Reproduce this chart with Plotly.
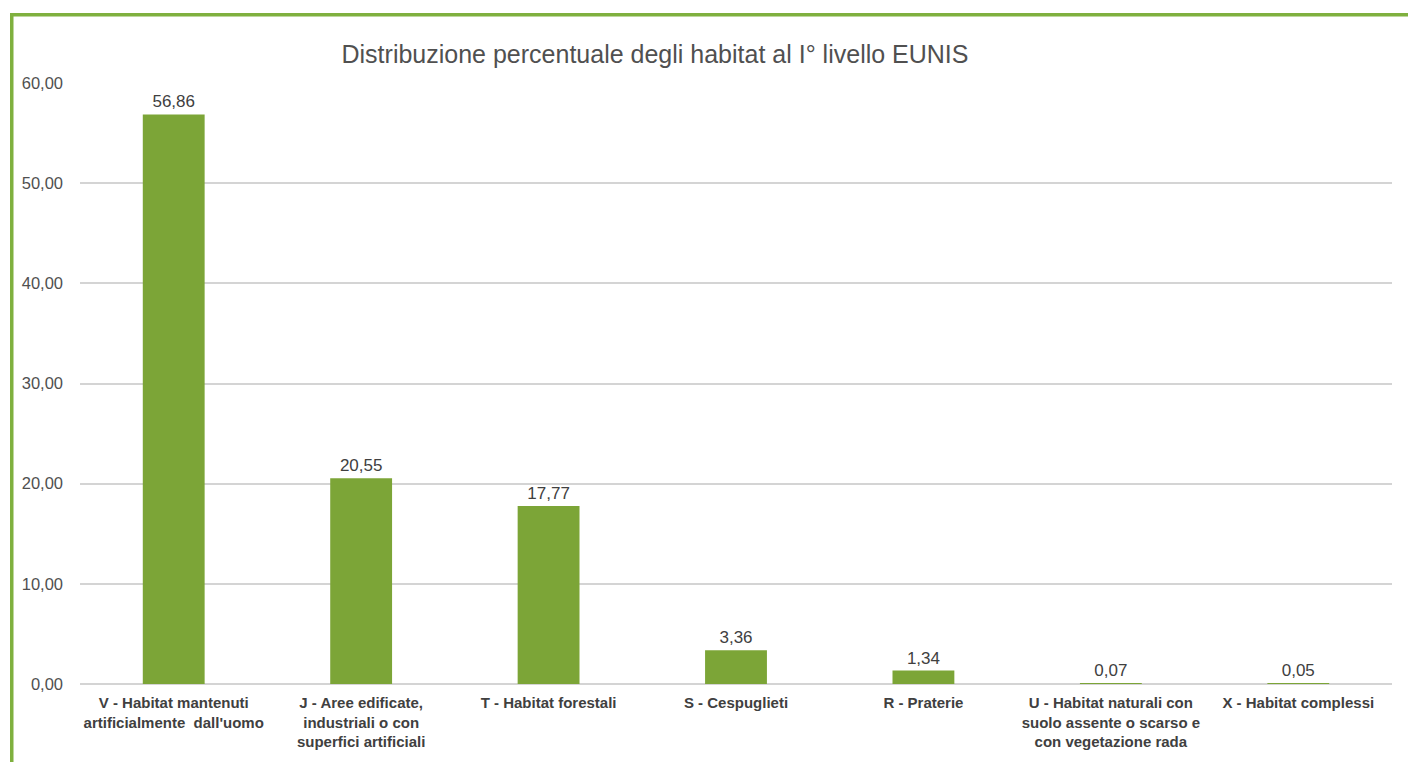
import plotly.graph_objects as go

categories = [
    "V - Habitat mantenuti<br>artificialmente  dall'uomo",
    "J - Aree edificate,<br>industriali o con<br>superfici artificiali",
    "T - Habitat forestali",
    "S - Cespuglieti",
    "R - Praterie",
    "U - Habitat naturali con<br>suolo assente o scarso e<br>con vegetazione rada",
    "X - Habitat complessi",
]
values = [56.86, 20.55, 17.77, 3.36, 1.34, 0.07, 0.05]
title_text = "Distribuzione percentuale degli habitat al I° livello EUNIS"

W, H = 1408, 762
L, R, T, B = 80, 16, 83, 78
pw, ph = W - L - R, H - T - B

def px_x(x):
    return (x - L) / pw

def px_y(y):
    return 1 - (y - T) / ph

FONT = "Liberation Sans, Arial"

fig = go.Figure()
fig.add_trace(go.Bar(
    x=categories,
    y=values,
    marker=dict(color="#7CA537", line=dict(width=0)),
    texttemplate="%{y:.2f}",
    textposition="outside",
    textfont=dict(family=FONT, size=17, color="#404040"),
    cliponaxis=False,
    hoverinfo="skip",
))

fig.update_layout(
    width=W, height=H,
    margin=dict(l=L, r=R, t=T, b=B),
    paper_bgcolor="white",
    plot_bgcolor="white",
    separators=",.",
    showlegend=False,
    bargap=0.67,
    title=dict(
        text=title_text,
        x=px_x(655), xanchor="center", xref="paper",
        y=1 - 54 / H, yanchor="middle", yref="container",
        font=dict(family=FONT, size=25, color="#505050"),
    ),
    xaxis=dict(
        showgrid=False, showline=False, ticks="",
        tickfont=dict(family=FONT, size=15, color="#404040", weight="bold"),
        tickangle=0, ticklabelstandoff=8,
    ),
    yaxis=dict(
        range=[0, 60], dtick=10, tickformat=".2f",
        showgrid=True, gridcolor="#D4D4D4", gridwidth=1.5,
        zeroline=True, zerolinecolor="#D4D4D4", zerolinewidth=1.5,
        showline=False, ticks="", ticklen=0, ticklabelstandoff=16,
        tickfont=dict(family=FONT, size=16.5, color="#505050"),
    ),
    shapes=[
        dict(type="rect", xref="paper", yref="paper",
             x0=px_x(10), x1=px_x(W + 5), y0=px_y(13), y1=px_y(16.5),
             fillcolor="#7FB03E", line=dict(width=0), layer="above"),
        dict(type="rect", xref="paper", yref="paper",
             x0=px_x(10), x1=px_x(13.5), y0=px_y(13), y1=px_y(H + 5),
             fillcolor="#7FB03E", line=dict(width=0), layer="above"),
    ],
)

fig.write_html(
    "out.html",
    config={"displayModeBar": False},
    post_script="document.body.style.margin='0';document.body.style.overflow='hidden';",
)
